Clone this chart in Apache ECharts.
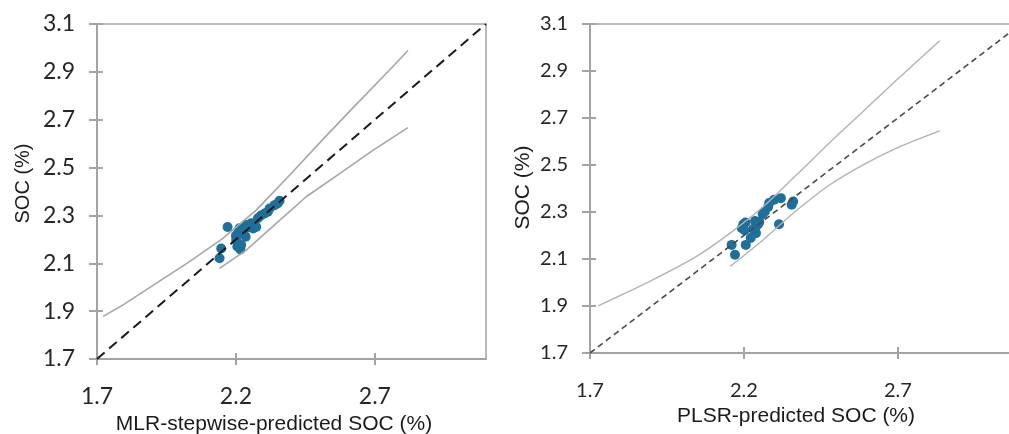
<!DOCTYPE html>
<html>
<head>
<meta charset="utf-8">
<script src="https://cdn.jsdelivr.net/npm/echarts@6/dist/echarts.min.js"></script>
<style>
html, body { margin: 0; padding: 0; background: #fff; }
#main { width: 1009px; height: 434px; }
</style>
</head>
<body>
<div id="main"></div>
<script>
// tick values
var xTicks = [1.7, 2.2, 2.7];
var yTicks = [1.7, 1.9, 2.1, 2.3, 2.5, 2.7, 2.9, 3.1];
var oneToOne = [1.7, 3.1];

// MLR-stepwise: predicted vs measured SOC
var mlrPred = [2.170, 2.147, 2.141, 2.216, 2.235, 2.201, 2.207, 2.213, 2.237, 2.255, 2.273, 2.279, 2.303,
               2.321, 2.339, 2.357, 2.219, 2.205, 2.262, 2.290, 2.315, 2.226, 2.245, 2.350, 2.200];
var mlrSoc  = [2.252, 2.162, 2.121, 2.158, 2.211, 2.197, 2.225, 2.246, 2.260, 2.267, 2.252, 2.288, 2.308,
               2.329, 2.343, 2.361, 2.176, 2.170, 2.245, 2.300, 2.315, 2.240, 2.250, 2.350, 2.215];
var mlrUpX = [1.722, 1.794, 1.914, 2.033, 2.153, 2.273, 2.393, 2.513, 2.633, 2.753, 2.819];
var mlrUpY = [1.878, 1.926, 2.017, 2.107, 2.204, 2.322, 2.468, 2.618, 2.764, 2.908, 2.989];
var mlrLoX = [2.141, 2.237, 2.345, 2.453, 2.573, 2.693, 2.819];
var mlrLoY = [2.079, 2.155, 2.267, 2.378, 2.475, 2.572, 2.667];

// PLSR: predicted vs measured SOC
var plsrPred = [2.160, 2.171, 2.206, 2.193, 2.198, 2.205, 2.222, 2.239, 2.236, 2.246, 2.240, 2.261,
                2.268, 2.279, 2.282, 2.298, 2.320, 2.314, 2.355, 2.360, 2.202, 2.230, 2.250];
var plsrSoc  = [2.160, 2.118, 2.160, 2.231, 2.248, 2.255, 2.189, 2.210, 2.262, 2.248, 2.240, 2.291,
                2.302, 2.323, 2.338, 2.352, 2.359, 2.248, 2.331, 2.345, 2.222, 2.228, 2.258];
var plsrUpX = [1.727, 1.884, 2.046, 2.155, 2.263, 2.371, 2.479, 2.587, 2.696, 2.836];
var plsrUpY = [1.901, 1.998, 2.111, 2.210, 2.323, 2.458, 2.596, 2.728, 2.862, 3.029];
var plsrLoX = [2.155, 2.263, 2.360, 2.479, 2.587, 2.696, 2.836];
var plsrLoY = [2.068, 2.182, 2.295, 2.416, 2.501, 2.572, 2.645];

function pairs(xs, ys) {
    var out = [];
    for (var i = 0; i < xs.length; i++) out.push([xs[i], ys[i]]);
    return out;
}

var axisGray = '#a3a3a3';
var labelColor = '#262626';

function xMain(grid, name, size, labelGap, gap, shift) {
    return {
        type: 'value', gridIndex: grid, position: 'bottom', min: 1.7, max: 3.1,
        name: name, nameLocation: 'middle', nameGap: gap,
        nameTextStyle: { fontFamily: 'Liberation Sans', fontSize: 21, color: '#1a1a1a', padding: [0, shift, 0, 0] },
        axisLine: { lineStyle: { color: axisGray, width: 2 } },
        axisTick: { customValues: xTicks, length: 6, lineStyle: { color: axisGray, width: 2 } },
        axisLabel: { customValues: xTicks, margin: labelGap, fontFamily: 'Lato', fontSize: size, color: labelColor },
        splitLine: { show: false }
    };
}
function xInner(grid) {
    return {
        type: 'value', gridIndex: grid, position: 'bottom', min: 1.7, max: 3.1,
        axisLine: { show: false },
        axisTick: { inside: true, customValues: xTicks, length: 6, lineStyle: { color: axisGray, width: 2 } },
        axisLabel: { show: false }, splitLine: { show: false }
    };
}
function yMain(grid, size, gap, shift, nameSize) {
    return {
        type: 'value', gridIndex: grid, position: 'left', min: 1.7, max: 3.1,
        name: 'SOC (%)', nameLocation: 'middle', nameGap: gap,
        nameTextStyle: { fontFamily: 'Liberation Sans', fontSize: nameSize, color: '#1a1a1a', padding: [0, 0, 0, shift] },
        axisLine: { lineStyle: { color: axisGray, width: 2 } },
        axisTick: { customValues: yTicks, length: 8, lineStyle: { color: axisGray, width: 2 } },
        axisLabel: { customValues: yTicks, margin: 22, fontFamily: 'Lato', fontSize: size, color: labelColor },
        splitLine: { show: false }
    };
}
function yInner(grid) {
    return {
        type: 'value', gridIndex: grid, position: 'left', min: 1.7, max: 3.1,
        axisLine: { show: false },
        axisTick: { inside: true, customValues: yTicks, length: 6, lineStyle: { color: axisGray, width: 2 } },
        axisLabel: { show: false }, splitLine: { show: false }
    };
}

var chart = echarts.init(document.getElementById('main'), null, { renderer: 'canvas' });

var option = {
    animation: false,
    backgroundColor: '#fff',
    grid: [
        { left: 97, top: 24, width: 389, height: 335, outerBoundsMode: 'none', containLabel: false,
          show: true, borderColor: axisGray, borderWidth: 1.5, backgroundColor: 'transparent' },
        { left: 590, top: 24, width: 431, height: 329, outerBoundsMode: 'none', containLabel: false,
          show: true, borderColor: axisGray, borderWidth: 1.5, backgroundColor: 'transparent' }
    ],
    xAxis: [
        xMain(0, 'MLR-stepwise-predicted SOC (%)', 23, 26, 55, 35),
        xInner(0),
        xMain(1, 'PLSR-predicted SOC (%)', 20, 28, 36, 19),
        xInner(1)
    ],
    yAxis: [
        yMain(0, 23, 64, 16, 20),
        yInner(0),
        yMain(1, 20, 56, 2, 21),
        yInner(1)
    ],
    series: [
        { type: 'line', xAxisIndex: 0, yAxisIndex: 0, data: pairs(mlrUpX, mlrUpY), symbol: 'none',
          lineStyle: { color: '#a6a6a6', width: 1.6 } },
        { type: 'line', xAxisIndex: 0, yAxisIndex: 0, data: pairs(mlrLoX, mlrLoY), symbol: 'none',
          lineStyle: { color: '#a6a6a6', width: 1.6 } },
        { type: 'line', xAxisIndex: 0, yAxisIndex: 0, data: pairs(oneToOne, oneToOne), symbol: 'none',
          lineStyle: { color: '#1a1a1a', width: 2, type: [10, 6] } },
        { type: 'scatter', xAxisIndex: 0, yAxisIndex: 0, data: pairs(mlrPred, mlrSoc), symbolSize: 10,
          itemStyle: { color: '#1f6f9a', opacity: 1 } },

        { type: 'line', xAxisIndex: 2, yAxisIndex: 2, data: pairs(plsrUpX, plsrUpY), smooth: 0.3, symbol: 'none',
          lineStyle: { color: '#b3b3b3', width: 1.4 } },
        { type: 'line', xAxisIndex: 2, yAxisIndex: 2, data: pairs(plsrLoX, plsrLoY), smooth: 0.3, symbol: 'none',
          lineStyle: { color: '#b3b3b3', width: 1.4 } },
        { type: 'line', xAxisIndex: 2, yAxisIndex: 2, data: pairs(oneToOne, oneToOne), symbol: 'none',
          lineStyle: { color: '#4a4a4a', width: 1.6, type: [6, 4] } },
        { type: 'scatter', xAxisIndex: 2, yAxisIndex: 2, data: pairs(plsrPred, plsrSoc), symbolSize: 10,
          itemStyle: { color: '#1f6f9a', opacity: 1 } }
    ]
};
chart.setOption(option);
</script>
</body>
</html>
